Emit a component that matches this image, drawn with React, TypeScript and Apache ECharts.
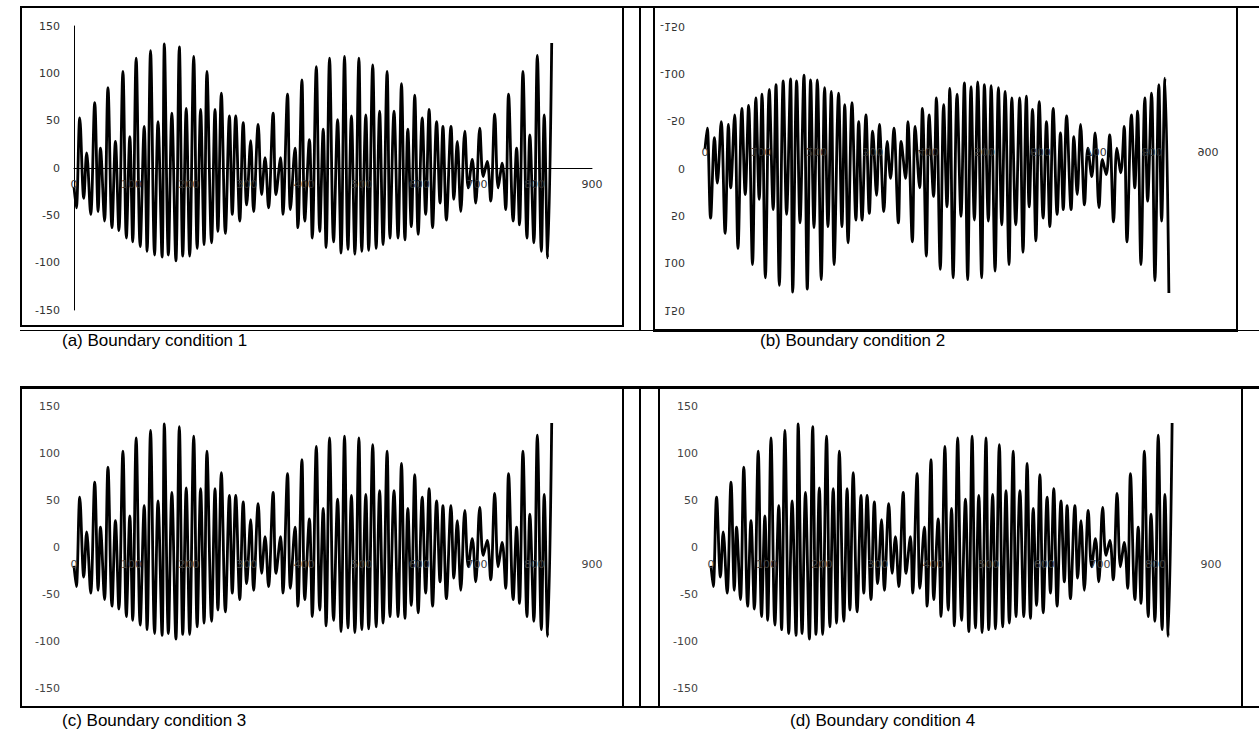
import React, { useEffect, useRef } from "react";
import * as echarts from "echarts";

// positions along the x axis of each extremum of the signal
const xPos = [
  0, 4, 10, 17, 22, 29, 36, 42, 46, 53, 59, 66, 72, 78, 85, 91, 97, 102, 108, 115,
  122, 127, 133, 140, 146, 153, 157, 164, 170, 177, 183, 189, 195, 201, 208, 214, 220, 226, 231, 239,
  245, 250, 256, 263, 270, 275, 281, 288, 294, 300, 307, 312, 320, 326, 332, 338, 346, 351, 359, 363,
  371, 376, 384, 389, 396, 401, 409, 414, 421, 427, 433, 438, 444, 451, 458, 464, 470, 476, 482, 488,
  495, 500, 507, 512, 519, 525, 531, 537, 544, 549, 556, 563, 569, 575, 580, 586, 592, 598, 605, 611,
  617, 623, 630, 636, 641, 647, 655, 660, 666, 672, 679, 685, 692, 698, 705, 711, 718, 724, 731, 737,
  744, 750, 755, 763, 769, 774, 780, 787, 792, 799, 805, 812, 817, 823, 830,
];
// signal value at each of those positions
const signal = [
  -20, -42, 53, -32, 16, -49, 69, -46, 21, -56, 85, -63, 28, -66, 102, -74, 33, -78, 116, -83,
  44, -88, 124, -92, 49, -94, 131, -92, 58, -98, 128, -93, 63, -93, 118, -85, 62, -81, 102, -79,
  62, -67, 79, -69, 55, -49, 55, -56, 48, -39, 29, -46, 46, -28, 11, -42, 58, -28, 11, -49,
  78, -44, 21, -63, 93, -56, 30, -74, 107, -67, 41, -84, 116, -78, 51, -90, 118, -86, 55, -91,
  116, -88, 56, -87, 109, -85, 60, -81, 102, -74, 60, -74, 89, -76, 41, -62, 77, -70, 53, -49,
  62, -63, 49, -37, 44, -55, 44, -33, 28, -46, 39, -21, 9, -37, 42, -9, 7, -35, 57, -21,
  5, -44, 78, -56, 21, -60, 102, -74, 35, -79, 119, -88, 56, -95, 132,
];
const yTicks = [-150, -100, -50, 0, 50, 100, 150];
const xTicks = [0, 100, 200, 300, 400, 500, 600, 700, 800, 900];
const captions = [
  "(a) Boundary condition 1",
  "(b) Boundary condition 2",
  "(c) Boundary condition 3",
  "(d) Boundary condition 4",
];

type PanelCfg = {
  left: number; top: number; width: number; height: number;
  gl: number; gt: number; gw: number; gh: number;
  axisLines: boolean; yMargin: number; xMargin: number; flip?: boolean;
  labelColor: string;
};

const panels: PanelCfg[] = [
  { left: 22, top: 9, width: 600, height: 316, gl: 52, gt: 17, gw: 518, gh: 284, axisLines: true, yMargin: 14, xMargin: 11, labelColor: "#333" },
  { left: 656, top: 9, width: 579, height: 318, gl: 49, gt: 17, gw: 503, gh: 284, axisLines: false, yMargin: 20, xMargin: 11, flip: true, labelColor: "#333" },
  { left: 22, top: 389, width: 600, height: 316, gl: 52, gt: 17, gw: 518, gh: 282, axisLines: false, yMargin: 14, xMargin: 12, labelColor: "#444" },
  { left: 660, top: 389, width: 580, height: 316, gl: 51, gt: 17, gw: 500, gh: 282, axisLines: false, yMargin: 13, xMargin: 12, labelColor: "#444" },
];

function buildOption(p: PanelCfg) {
  const data = xPos.map((x, i) => [x, signal[i]]);
  return {
    animation: false,
    grid: { left: p.gl, top: p.gt, width: p.gw, height: p.gh, containLabel: false },
    xAxis: {
      type: "value",
      min: xTicks[0],
      max: xTicks[xTicks.length - 1],
      interval: 100,
      position: "bottom",
      offset: -p.gh / 2,
      z: 10,
      axisLine: { show: p.axisLines, onZero: false, lineStyle: { color: "#000", width: 1 } },
      axisTick: { show: false },
      splitLine: { show: false },
      axisLabel: { margin: p.xMargin, color: p.labelColor, fontFamily: "DejaVu Sans", fontSize: 11 },
    },
    yAxis: {
      type: "value",
      min: yTicks[0],
      max: yTicks[yTicks.length - 1],
      interval: 50,
      axisLine: { show: p.axisLines, lineStyle: { color: "#000", width: 1 } },
      axisTick: { show: false },
      splitLine: { show: false },
      axisLabel: { margin: p.yMargin, color: p.labelColor, fontFamily: "DejaVu Sans", fontSize: 11 },
    },
    series: [
      {
        type: "line",
        data,
        showSymbol: false,
        smooth: 0.35,
        lineStyle: { color: "#000", width: 2.8 },
        z: 3,
      },
    ],
  };
}

const line = (l: number, t: number, w: number, h: number): React.CSSProperties => ({
  position: "absolute", left: l, top: t, width: w, height: h, background: "#000",
});

export default function App() {
  const refs = [useRef<HTMLDivElement>(null), useRef<HTMLDivElement>(null), useRef<HTMLDivElement>(null), useRef<HTMLDivElement>(null)];
  useEffect(() => {
    const charts = refs.map((r, i) => {
      const c = echarts.init(r.current as HTMLDivElement, undefined, { renderer: "svg" });
      c.setOption(buildOption(panels[i]));
      return c;
    });
    return () => charts.forEach((c) => c.dispose());
  }, []);

  const capStyle = (l: number, t: number): React.CSSProperties => ({
    position: "absolute", left: l, top: t, fontFamily: "Liberation Sans, Arial, sans-serif",
    fontSize: 17, color: "#000", whiteSpace: "nowrap", lineHeight: "20px",
  });

  return (
    <div style={{ position: "fixed", left: 0, top: 0, width: 1259, height: 738, background: "#fff", overflow: "hidden" }}>
      {/* row 1 frame */}
      <div style={line(20, 6, 1239, 2)} />
      <div style={line(20, 7, 2, 320)} />
      <div style={line(622, 7, 2, 320)} />
      <div style={line(20, 325, 604, 2)} />
      <div style={line(20, 330, 1239, 1)} />
      <div style={line(639, 7, 2, 324)} />
      <div style={line(653, 7, 2, 324)} />
      <div style={line(1236, 7, 2, 324)} />
      <div style={line(653, 329, 585, 3)} />
      {/* row 2 frame */}
      <div style={line(20, 386, 1239, 3)} />
      <div style={line(20, 387, 2, 321)} />
      <div style={line(622, 387, 2, 321)} />
      <div style={line(639, 387, 2, 321)} />
      <div style={line(658, 387, 2, 321)} />
      <div style={line(1241, 387, 2, 321)} />
      <div style={line(20, 706, 1239, 2)} />

      {panels.map((p, i) => (
        <div
          key={i}
          ref={refs[i]}
          style={{
            position: "absolute", left: p.left, top: p.top, width: p.width, height: p.height,
            transform: p.flip ? "scaleY(-1)" : undefined,
          }}
        />
      ))}

      <div style={capStyle(62, 331)}>{captions[0]}</div>
      <div style={capStyle(760, 331)}>{captions[1]}</div>
      <div style={capStyle(62, 711)}>{captions[2]}</div>
      <div style={capStyle(790, 711)}>{captions[3]}</div>
    </div>
  );
}
